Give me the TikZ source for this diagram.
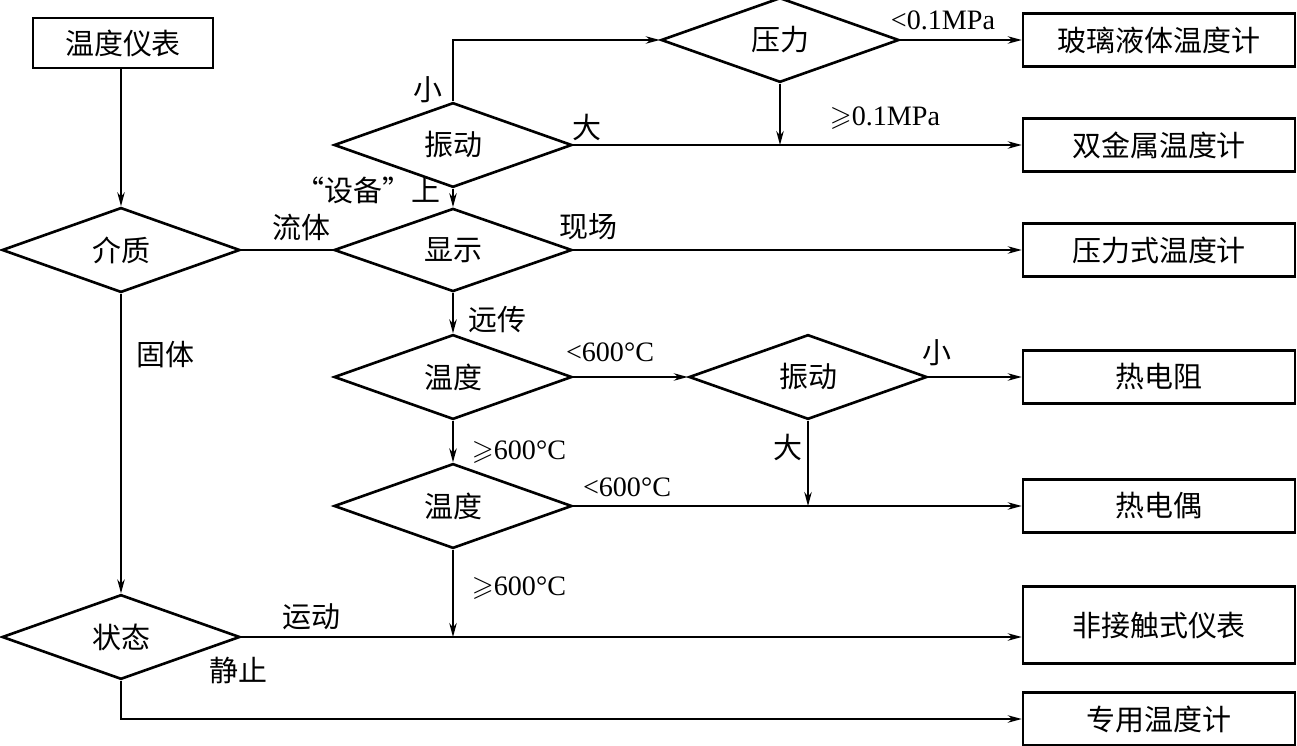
\documentclass[tikz,border=0pt]{standalone}
\usepackage{amssymb}
\usepackage{fontspec}
\setmainfont{Liberation Serif}
\newfontfamily\cjk{Noto Sans CJK SC}
\usetikzlibrary{shapes.geometric,arrows.meta}

\begin{document}
\begin{tikzpicture}[
    x=0.02cm, y=-0.02cm,
    font=\cjk\fontsize{16.5}{19}\selectfont,
    box/.style={draw, line width=1.5pt, minimum width=5.44cm,
                minimum height=1.06cm, inner sep=0pt},
    dec/.style={draw, line width=1.5pt, diamond, minimum width=4.76cm,
                minimum height=1.58cm, inner sep=0pt},
    lbl/.style={inner sep=0pt},
    num/.style={inner sep=0pt, font=\rmfamily\fontsize{16}{19}\selectfont},
    arr/.style={-{Stealth[length=2.8mm,width=1.5mm]}, line width=0.8pt},
    ln/.style={line width=0.8pt}
  ]
    \useasboundingbox (0,0) rectangle (1297,746);
    % decisions
    \node[box, minimum width=3.6cm, minimum height=1cm] (top) at (123,43) {温度仪表};
    \node[dec] (medium) at (121,250) {介质};
    \node[dec] (vibA)   at (453,145) {振动};
    \node[dec] (pres)   at (780,40)  {压力};
    \node[dec] (disp)   at (453,250) {显示};
    \node[dec] (tempA)  at (453,377) {温度};
    \node[dec] (vibB)   at (808,377) {振动};
    \node[dec] (tempB)  at (453,506) {温度};
    \node[dec] (state)  at (121,637) {状态};
    % results
    \node[box] (glass)   at (1159,40)  {玻璃液体温度计};
    \node[box] (bimetal) at (1159,145) {双金属温度计};
    \node[box] (pfilled) at (1159,250) {压力式温度计};
    \node[box] (rtd)     at (1159,377) {热电阻};
    \node[box] (tcouple) at (1159,506) {热电偶};
    \node[box, minimum height=1.54cm] (noncont) at (1159,625) {非接触式仪表};
    \node[box] (special) at (1159,719) {专用温度计};
    % labels
    \node[lbl] (lfluid)  at (301,227) {流体};
    \node[lbl] (lequip)  at (368,190) {“设备”上};
    \node[lbl] (lsmallA) at (428,90)  {小};
    \node[lbl] (lbigA)   at (587,127) {大};
    \node[lbl] (lsite)   at (588,227) {现场};
    \node[num] (llowP)   at (943,20)  {<0.1MPa};
    \node[num] (lhighP)  at (885,118) {$\geqslant$0.1MPa};
    \node[lbl] (lremote) at (497,320) {远传};
    \node[lbl] (lsolid)  at (165,355) {固体};
    \node[num] (llowA)   at (610,352) {<600°C};
    \node[lbl] (lsmallB) at (937,353) {小};
    \node[num] (lhighA)  at (519,452) {$\geqslant$600°C};
    \node[lbl] (lbigB)   at (788,447) {大};
    \node[num] (llowB)   at (627,487) {<600°C};
    \node[num] (lhighB)  at (519,588) {$\geqslant$600°C};
    \node[lbl] (lmove)   at (311,617) {运动};
    \node[lbl] (lstill)  at (238,670) {静止};
    % connectors
    \draw[arr] (medium.north |- top.south) -- (medium.north);
    \draw[ln]  (medium.east) -- (disp.west);
    \draw[arr] (medium.south) -- (state.north);
    \draw[arr] (vibA.south) -- (disp.north);
    \draw[arr] (vibA.north) |- (pres.west);
    \draw[arr] (pres.east) -- (glass.west);
    \draw[arr] (vibA.east) -- (bimetal.west);
    \draw[arr] (pres.south) -- (pres.south |- vibA.east);
    \draw[arr] (disp.east) -- (pfilled.west);
    \draw[arr] (disp.south) -- (tempA.north);
    \draw[arr] (tempA.east) -- (vibB.west);
    \draw[arr] (vibB.east) -- (rtd.west);
    \draw[arr] (vibB.south) -- (vibB.south |- tempB.east);
    \draw[arr] (tempA.south) -- (tempB.north);
    \draw[arr] (tempB.east) -- (tcouple.west);
    \draw[arr] (tempB.south) -- (tempB.south |- state.east);
    \draw[arr] (state.east) -- (noncont.west |- state.east);
    \draw[arr] (state.south) |- (special.west);
\end{tikzpicture}
\end{document}
